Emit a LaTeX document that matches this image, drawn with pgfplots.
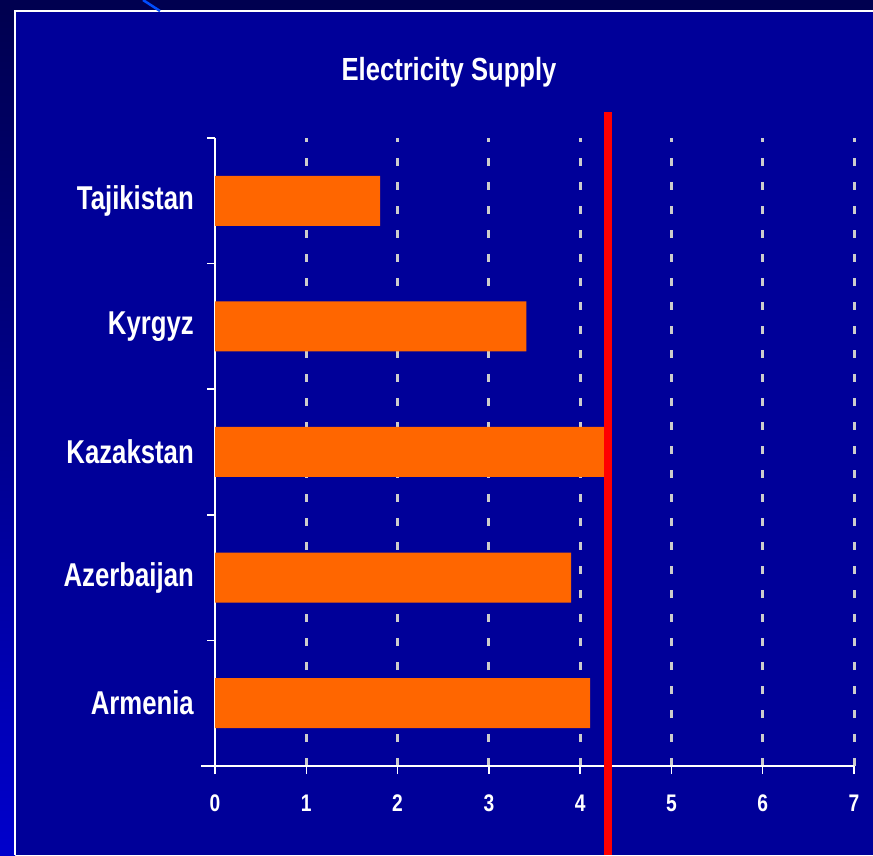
\documentclass[border=0pt]{standalone}
\usepackage{fontspec}
\setmainfont{Liberation Sans}
\newfontfamily\narrow[FakeStretch=0.8]{Liberation Sans}
\newfontfamily\narrowlab[FakeStretch=0.78]{Liberation Sans}
\usepackage{pgfplots}
\pgfplotsset{compat=1.18}
\definecolor{bgblue}{HTML}{000099}
\definecolor{darknavy}{HTML}{000050}
\definecolor{lightstrip}{HTML}{0000CC}
\definecolor{barorange}{HTML}{FF6600}
\definecolor{gridgray}{HTML}{CCCCCC}
\begin{document}
\begin{tikzpicture}[x=1pt,y=1pt]
\path[use as bounding box] (0,0) rectangle (873,855);
\fill[darknavy] (0,0) rectangle (873,855);
\shade[top color=darknavy, bottom color=lightstrip] (0,0) rectangle (15,844);
\fill[bgblue] (15,0) rectangle (873,844);
\draw[white, line width=1.5] (15,0) -- (15,844) -- (873,844);
\draw[blue!70!cyan, line width=2.5] (143,855) -- (160,844);
\node[white, font=\narrow\bfseries\fontsize{32}{36}\selectfont] at (449,783) {Electricity Supply};
\draw[white, line width=1.5pt] (201,89) -- (215,89);
\begin{axis}[
  at={(215pt,89pt)}, anchor=south west,
  scale only axis, width=639pt, height=628pt,
  xmin=0, xmax=7, ymin=0.5, ymax=5.5,
  clip=false,
  xbar, bar width=50pt,
  axis x line=bottom, axis y line=left,
  axis line style={-, white, line width=1.5pt},
  xtick={1,...,7},
  extra x ticks={0}, extra x tick style={grid=none},
  ytick={1,...,5},
  yticklabels={Armenia,Azerbaijan,Kazakstan,Kyrgyz,Tajikistan},
  minor xtick={0,...,7},
  minor ytick={0.5,1.5,...,5.5},
  tick align=outside,
  major tick length=0pt, minor tick length=8pt,
  minor tick style={white, line width=1.5pt},
  major tick style={draw=none},
  xmajorgrids,
  major x grid style={gridgray, line width=3pt, dash pattern=on 8pt off 16pt},
  /pgf/number format/assume math mode=true,
  yticklabel style={anchor=east, inner sep=0pt, xshift=-21pt, white,
    font=\narrowlab\bfseries\fontsize{33}{36}\selectfont},
  xticklabel style={anchor=north, inner sep=0pt, yshift=-29pt, white,
    font=\narrow\bfseries\fontsize{24}{26}\selectfont},
]
\addplot[fill=barorange, draw=none] coordinates {
  (4.11,1) (3.90,2) (4.27,3) (3.41,4) (1.81,5)
};
\addplot[sharp plot, red, line width=8pt, forget plot] coordinates {(4.31,-0.209) (4.31,5.707)};
\end{axis}
\end{tikzpicture}
\end{document}
